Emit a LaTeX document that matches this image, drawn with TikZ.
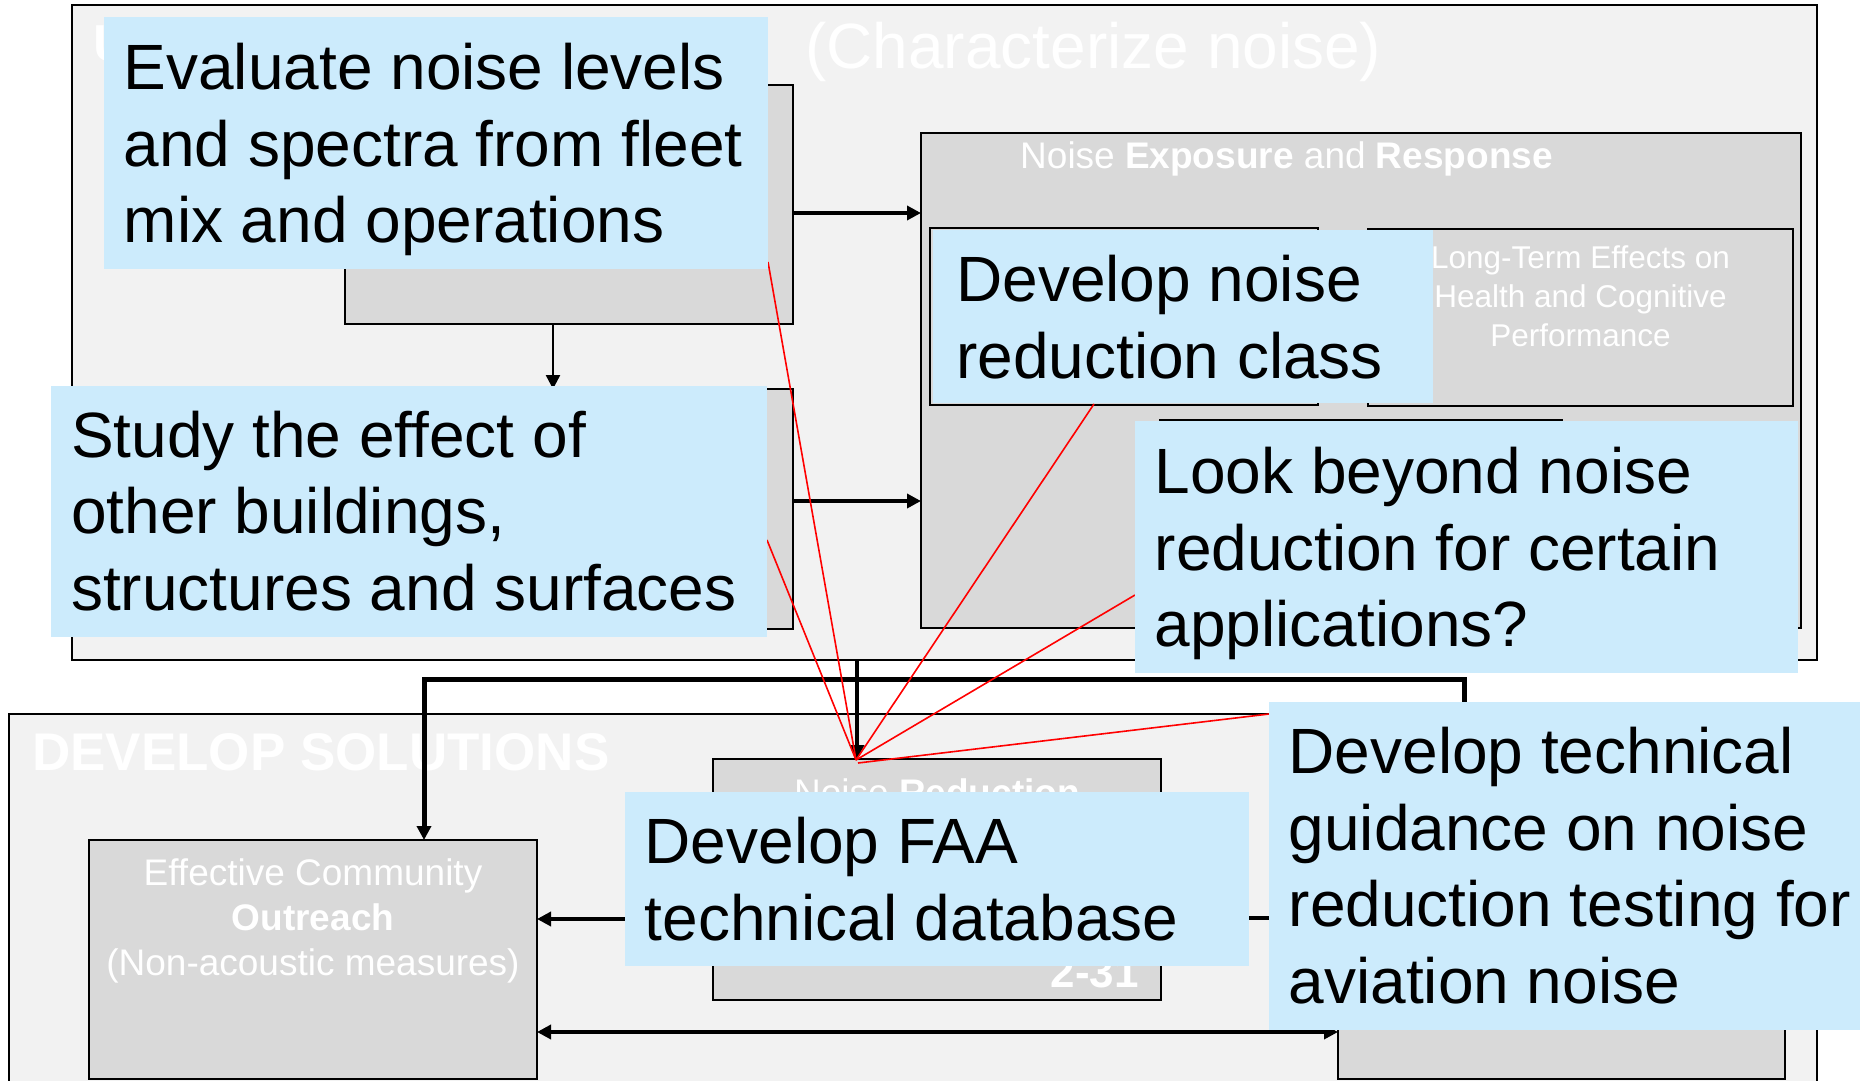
\documentclass[tikz,border=0pt]{standalone}
\usepackage{fontspec}
\setmainfont{Liberation Sans}
\usetikzlibrary{arrows.meta,calc}

\definecolor{panel}{HTML}{F2F2F2}
\definecolor{cell}{HTML}{D9D9D9}
\definecolor{note}{RGB}{204,235,252}

\tikzset{
  panelbox/.style={draw=black, line width=2.5pt, fill=panel, anchor=north west, inner sep=0pt, outer sep=0pt},
  cellbox/.style={draw=black, line width=2pt, fill=cell, anchor=north west, inner sep=0pt, outer sep=0pt},
  notebox/.style={fill=note, anchor=north west, inner sep=0pt, outer sep=0pt},
  % multi-line texts are placed by the baseline of their last line
  notetext/.style={anchor=base west, align=left, inner sep=0pt, text=black,
    font=\fontsize{64}{76.7}\selectfont},
  celltext/.style={text=white, inner sep=0pt},
  flow/.style={draw=black, line width=#1, -{Triangle[length=14pt,width=14pt]}},
  flow/.default=3.5pt,
  callout/.style={draw=red, line width=1.6pt},
}

\begin{document}
\begin{tikzpicture}[x=1pt,y=-1pt]
\useasboundingbox (0,0) rectangle (1860,1081);
\clip (0,0) rectangle (1860,1081);
\fill[white] (0,0) rectangle (1860,1081);

% two large panels
\node[panelbox, minimum width=1745pt, minimum height=655pt] (top) at (72,5) {};
\node[panelbox, minimum width=1808pt, minimum height=420pt] (bottom) at (9,714) {};

% panel titles
\node[celltext, anchor=base west, font=\fontsize{52}{60}\selectfont\bfseries] (toptitle) at (93,62) {UNDERSTAND PROBLEM};
\node[celltext, anchor=base west, font=\fontsize{64}{76}\selectfont] (topsub) at (805,68) {(Characterize noise)};
\node[celltext, anchor=base west, font=\fontsize{53}{60}\selectfont\bfseries] (bottomtitle) at (32,770) {DEVELOP SOLUTIONS};

% boxes of the upper panel
\node[cellbox, minimum width=448pt, minimum height=239pt] (A) at (345,85) {};
\node[cellbox, minimum width=448pt, minimum height=240pt] (B) at (345,389) {};
\node[cellbox, minimum width=880pt, minimum height=495pt] (C) at (921,133) {};
\node[cellbox, minimum width=425pt, minimum height=177pt] (D) at (1368,229) {};
\node[cellbox, minimum width=388pt, minimum height=177pt] (E) at (930,228) {};
\node[cellbox, minimum width=402pt, minimum height=200pt] (F) at (1160,420) {};

\node[celltext, anchor=base west, font=\fontsize{37}{44}\selectfont] (Ctitle) at (1020,168)
  {Noise \textbf{Exposure} and \textbf{Response}};
\node[celltext, anchor=base, align=center, font=\fontsize{31.5}{39}\selectfont] (Dtext) at (1580.5,346.5)
  {Long-Term Effects on\\Health and Cognitive\\Performance};

% boxes of the lower panel
\node[cellbox, minimum width=448pt, minimum height=239pt] (G) at (89,840) {};
\node[cellbox, minimum width=448pt, minimum height=241pt] (H) at (713,759) {};
\node[cellbox, minimum width=447pt, minimum height=239pt] (I) at (1338,840) {};

\node[celltext, anchor=base, align=center, font=\fontsize{37}{45}\selectfont] (Gtext) at (313,975)
  {Effective Community\\\textbf{Outreach}\\(Non-acoustic measures)};
\node[celltext, anchor=base, font=\fontsize{37}{45}\selectfont] (Htext) at (937,805)
  {Noise \textbf{Reduction}};
\node[celltext, anchor=base east, font=\fontsize{44}{50}\selectfont\bfseries] (Hnum) at (1139,987) {2-31};

% connectors
\draw[flow=2.5pt] ([xshift=-16pt]A.south) -- ([xshift=-16pt]B.north);
\draw[flow] ([yshift=-8.5pt]A.east) -- ([yshift=-8.5pt]A.east -| C.west);
\draw[flow] ([yshift=8pt]B.east) -- ([yshift=8pt]B.east -| C.west);
\draw[flow=4.5pt] ([xshift=-80pt]H.north |- top.south) -- ([xshift=-80pt]H.north);

\coordinate (bus) at (0,679);
\draw[flow=5pt] ([xshift=-97.5pt]I.north) -- ([xshift=-97.5pt]I.north |- bus)
  -- ([xshift=111pt]G.north |- bus) -- ([xshift=111pt]G.north);

\draw[flow=4pt] ([yshift=-39.5pt]H.west) -- ([yshift=-39.5pt]H.west -| G.east);
\draw[flow=4pt] ([yshift=41.5pt]I.west) -- ([yshift=41.5pt]I.west -| H.east);
\draw[flow=4pt, {Triangle[length=14pt,width=14pt]}-{Triangle[length=14pt,width=14pt]}]
  ([yshift=-72.5pt]G.east) -- ([yshift=-72.5pt]G.east -| I.west);

% callout leaders
\coordinate (hub) at (856,760);
\coordinate (hubb) at (858,763);
\coordinate (c1) at (768,262);
\coordinate (c2) at (767,540);
\coordinate (c3) at (1094,404);
\coordinate (c4) at (1135,595);
\coordinate (c5) at (1269,714);
\draw[callout] (c1) -- (hub);
\draw[callout] (c2) -- (hub);
\draw[callout] (c3) -- (hub);
\draw[callout] (c4) -- (hub);
\draw[callout] (c5) -- (hubb);

% callout notes
\node[notebox, minimum width=664pt, minimum height=252pt] (n1) at (104,17) {};
\node[notetext] (t1) at (123.5,242.7) {Evaluate noise levels\\and spectra from fleet\\mix and operations};

\node[notebox, minimum width=716pt, minimum height=251pt] (n4) at (51,386) {};
\node[notetext] (t4) at (71,610.5) {Study the effect of\\other buildings,\\structures and surfaces};

\node[notebox, minimum width=500pt, minimum height=173pt] (n2) at (933,230) {};
\node[notetext] (t2) at (956,378.4) {Develop noise\\reduction class};

\node[notebox, minimum width=663pt, minimum height=252pt] (n3) at (1135,421) {};
\node[notetext] (t3) at (1154.5,646.7) {Look beyond noise\\reduction for certain\\applications?};

\node[notebox, minimum width=624pt, minimum height=174pt] (n5) at (625,792) {};
\node[notetext] (t5) at (644.5,940) {Develop FAA\\technical database};

\node[notebox, minimum width=601pt, minimum height=328pt] (n6) at (1269,702) {};
\node[notetext] (t6) at (1288.5,1003.4) {Develop technical\\guidance on noise\\reduction testing for\\aviation noise};
\end{tikzpicture}
\end{document}
